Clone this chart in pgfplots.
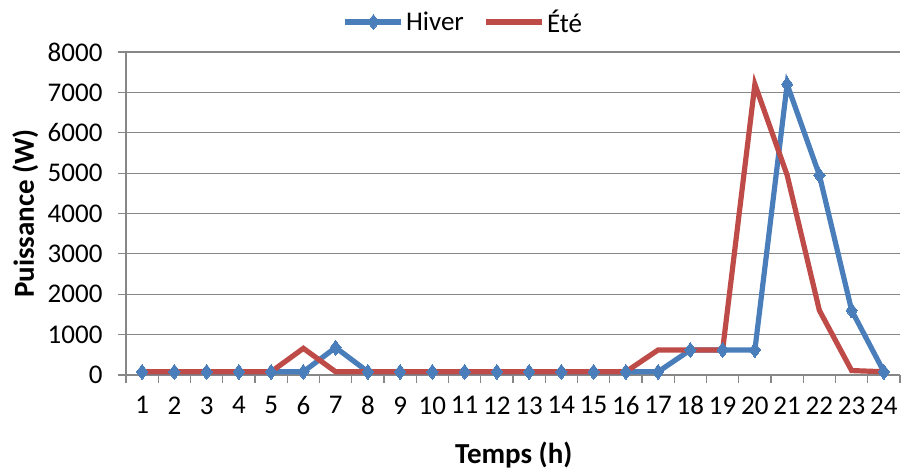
\documentclass[border=0pt]{standalone}
\usepackage{fontspec}
\setmainfont{Carlito}
\usepackage{pgfplots}
\pgfplotsset{compat=1.18}
\definecolor{hiver}{HTML}{4A7EBB}
\definecolor{ete}{HTML}{BE4B48}
\definecolor{gridc}{HTML}{878787}
\begin{document}
\begin{tikzpicture}
\path[use as bounding box] (0,0) rectangle (901pt,473pt);
\begin{axis}[
  at={(126pt,98pt)}, anchor=south west,
  scale only axis, width=774pt, height=323pt,
  font=\fontsize{27}{31}\selectfont,
  /pgf/number format/assume math mode=true,
  xmin=0.5, xmax=24.5, ymin=0, ymax=8000,
  xtick={1,...,24}, major x tick style={draw=none},
  minor xtick={0.5,1.5,...,24.5},
  ytick={0,1000,...,8000},
  scaled y ticks=false,
  yticklabel style={/pgf/number format/1000 sep={}, xshift=-12pt},
  xticklabel style={yshift=-10pt},
  tick align=outside,
  major tick length=8pt, minor tick length=8pt,
  tick style={gridc, line width=1.2pt},
  axis x line*=bottom, axis y line*=left,
  axis line style={gridc, line width=1.2pt, -},
  ymajorgrids, grid style={gridc, line width=1.2pt},
  xlabel={\fontsize{29}{33}\selectfont\textbf{Temps (h)}}, ylabel={\fontsize{29}{33}\selectfont\textbf{Puissance (W)}},
  x label style={at={(axis description cs:0.501,-0.248)}, anchor=center},
  y label style={at={(axis description cs:-0.13,0.5)}, anchor=center},
  legend style={at={(axis description cs:0.436,1.093)}, anchor=center, draw=none, fill=none,
    legend columns=2, /tikz/every even column/.append style={column sep=18pt},
    font=\fontsize{27}{31}\selectfont, inner sep=0pt},
  legend image code/.code={\draw[mark repeat=2,mark phase=2] plot coordinates {(0pt,0pt) (28pt,0pt) (56pt,0pt)};},
]
\addplot[hiver, line width=5.2pt, mark=diamond*, mark size=7.5pt, mark options={solid, line width=0pt}] coordinates {
(1,80) (2,80) (3,80) (4,80) (5,80) (6,80) (7,680) (8,80) (9,80) (10,80) (11,80) (12,80)
(13,80) (14,80) (15,80) (16,80) (17,80) (18,620) (19,620) (20,620) (21,7200) (22,4950) (23,1600) (24,80)};
\addlegendentry{Hiver}
\addplot[ete, line width=5.2pt] coordinates {
(1,80) (2,80) (3,80) (4,80) (5,80) (6,660) (7,80) (8,80) (9,80) (10,80) (11,80) (12,80)
(13,80) (14,80) (15,80) (16,80) (17,620) (18,620) (19,620) (20,7200) (21,4950) (22,1600) (23,110) (24,80)};
\addlegendentry{Été}
\end{axis}
\end{tikzpicture}
\end{document}
